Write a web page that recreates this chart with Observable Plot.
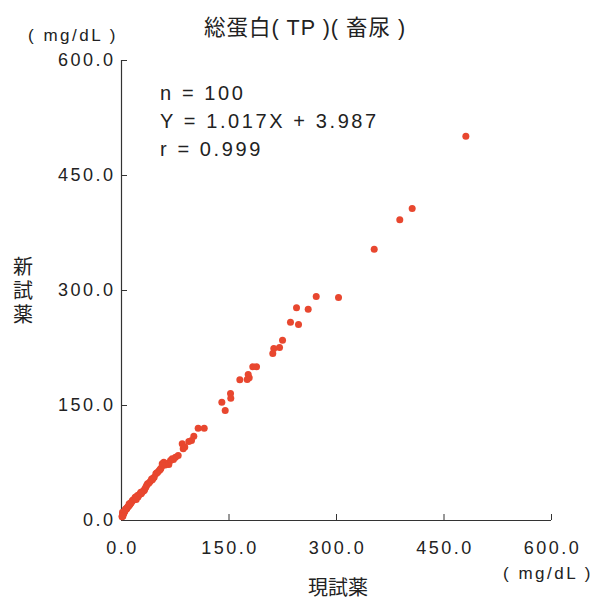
<!DOCTYPE html>
<html><head><meta charset="utf-8">
<script src="https://cdn.jsdelivr.net/npm/d3@7"></script>
<script src="https://cdn.jsdelivr.net/npm/@observablehq/plot@0.6"></script>
<style>body{margin:0;background:#fff}</style>
</head><body><div id="chart"></div>
<script>
const xTicks = [0, 150, 300, 450, 600];
const yTicks = [0, 150, 300, 450, 600];
const currentReagent = [480.5,405.6,388.3,352.6,302.8,271.7,260.5,244.2,247.0,235.8,224.7,220.5,212.5,211.1,188.4,183.2,176.8,178.2,175.4,165.1,152.1,152.5,140.0,144.7,115.4,107.0,100.9,97.7,93.9,84.7,86.1,88.3,
79.1,75.3,72.5,70.7,68.4,66,63.5,61,59.0,56.8,57.2,55,54,52.6,50.5,49,47.9,45.6,44,42,38,36.3,35,33.9,32.5,31.7,30,28.5,26.9,25.5,24,22.3,21,20,19.1,18,17,16,15.3,14,13,12,10.7,10,9,8.4,7.5,7,6,5,4.5,4,3.5,3,2.5,1.8,1.4,1.5,1,0.8,2,27.5,23,40,43,11,20.5,5.5];
const newReagent = [501.3,407,392.2,353.9,290.9,292.2,275.6,277.4,255.7,258.7,235.2,225.7,224.3,217.8,200.5,200.5,190.4,186.1,183.9,183.5,165.7,159.5,154.3,143.5,120.4,120.4,110.0,104.3,103.0,100.0,93.5,96.0,
84.8,82.6,79.5,80.5,78.3,73,74.5,72.5,76.0,74.0,71.7,68,66.5,65.2,63,62,60.9,56.5,55,54,48.5,47.9,45.5,43.4,41,39.1,38,37,36.9,34.5,33,32.6,31,30,30.4,28,27,26.5,26.1,24,22.5,21.5,21.8,19,18,17.3,16,15,15.3,13.5,12.5,11,10.5,9.5,8.5,7.5,10.8,6.5,5.5,5,6,35,30.5,51,53,20,27.5,14];
const statLines = ["n = 100", "Y = 1.017X + 3.987", "r = 0.999"];
const title = "総蛋白( TP )( 畜尿 )";
const unit = "( mg/dL )";
const xLabel = "現試薬";
const yLabel = "新試薬";

const points = currentReagent.map((x, i) => ({x, y: newReagent[i]}));
const font = "'Liberation Sans', Arial, 'Noto Sans CJK JP', sans-serif";
const fmt = d => d.toFixed(1);

const plot = Plot.plot({
  width: 595, height: 599,
  marginLeft: 121, marginRight: 44, marginTop: 60, marginBottom: 79,
  style: {fontFamily: font, fontSize: "18px", color: "#222", background: "#fff"},
  x: {domain: [0, 600]},
  y: {domain: [0, 600]},
  marks: [
    Plot.ruleX([0], {stroke: "#333", strokeWidth: 1.2}),
    Plot.ruleY([0], {stroke: "#333", strokeWidth: 1.2}),
    Plot.axisX({ticks: xTicks, tickSize: -6, tickFormat: () => "", stroke: "#333", label: null}),
    Plot.axisY({ticks: yTicks, tickSize: -6, tickFormat: () => "", stroke: "#333", label: null}),
    Plot.axisX({ticks: xTicks, tickSize: 0, tickPadding: 21, tickFormat: fmt, fill: "#222", label: null, fontSize: 18, dx: 1}),
    Plot.axisY({ticks: yTicks, tickSize: 0, tickPadding: 6, tickFormat: fmt, fill: "#222", label: null, fontSize: 18}),
    Plot.dot(points, {x: "x", y: "y", r: 3.5, fill: "#e8472f", stroke: "none"})
  ]
});
document.getElementById("chart").appendChild(plot);

const svg = d3.select(plot);
svg.selectAll("[aria-label='x-axis tick label'] text, [aria-label='y-axis tick label'] text")
  .style("letter-spacing", "2.5px");
function addText(str, x, y, opts = {}) {
  return svg.append("text").attr("x", x).attr("y", y)
    .attr("text-anchor", opts.anchor || "start")
    .attr("font-family", font)
    .attr("font-size", opts.size || 17)
    .attr("fill", "#222")
    .attr("dominant-baseline", "central")
    .style("letter-spacing", (opts.ls ?? 2) + "px")
    .text(str);
}
addText(title, 305, 28, {anchor: "middle", size: 21.5, ls: 1});
addText(unit, 73, 35, {anchor: "middle", size: 17, ls: 2.5});
addText(unit, 548, 573, {anchor: "middle", size: 17, ls: 2.5});
addText(xLabel, 338, 588, {anchor: "middle", size: 20, ls: 0});
yLabel.split("").forEach((c, i) => addText(c, 23, 267 + i * 24, {anchor: "middle", size: 20, ls: 0}));
statLines.forEach((s, i) => addText(s, 160, 93 + i * 28, {size: 20, ls: 2.6}));
</script></body></html>
